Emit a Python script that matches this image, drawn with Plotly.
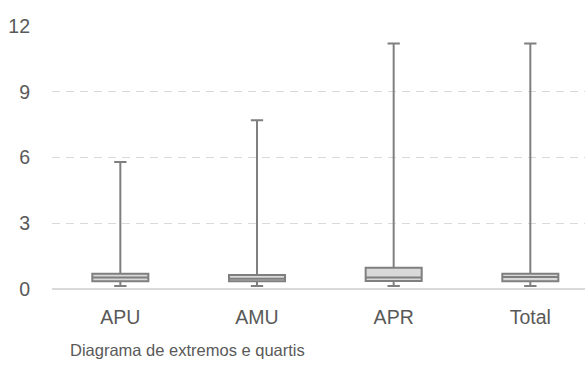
import plotly.graph_objects as go

# Summary statistics per group (min, quartiles, max)
categories = ["APU", "AMU", "APR", "Total"]
minimum = [0.14, 0.14, 0.14, 0.14]
q1 = [0.35, 0.35, 0.37, 0.35]
median = [0.53, 0.47, 0.52, 0.55]
q3 = [0.70, 0.64, 0.97, 0.70]
maximum = [5.8, 7.7, 11.2, 11.2]
y_ticks = [0, 3, 6, 9, 12]

FONT = "Liberation Sans, Arial, sans-serif"
TEXT_COLOR = "#595959"

fig = go.Figure()
fig.add_trace(go.Box(
    x=categories,
    lowerfence=minimum,
    q1=q1,
    median=median,
    q3=q3,
    upperfence=maximum,
    boxpoints=False,
    width=0.41,
    whiskerwidth=0.22,
    fillcolor="#d9d9d9",
    line=dict(color="#7f7f7f", width=2),
    hoverinfo="skip",
))

fig.add_annotation(
    text="Diagrama de extremos e quartis",
    xref="paper", yref="paper",
    x=0.03, y=-0.232,
    xanchor="left", yanchor="middle",
    showarrow=False,
    font=dict(family=FONT, size=16.5, color=TEXT_COLOR),
)

fig.update_layout(
    width=585, height=380,
    margin=dict(l=52, r=0, t=26, b=91),
    paper_bgcolor="white",
    plot_bgcolor="white",
    showlegend=False,
    font=dict(family=FONT, size=19.5, color=TEXT_COLOR),
    xaxis=dict(
        range=[-0.5, 3.4],
        showgrid=False,
        showline=False,
        zeroline=False,
        ticks="",
        ticklabelstandoff=14,
        tickfont=dict(family=FONT, size=19.5, color=TEXT_COLOR),
    ),
    yaxis=dict(
        range=[0, 12],
        tickvals=y_ticks,
        showgrid=True,
        gridcolor="#d9d9d9",
        gridwidth=1,
        griddash="8px,6px",
        zeroline=True,
        zerolinecolor="#d9d9d9",
        zerolinewidth=2,
        showline=False,
        ticks="",
        ticklabelstandoff=21,
        tickfont=dict(family=FONT, size=19.5, color=TEXT_COLOR),
    ),
)

fig.write_html("out.html")
